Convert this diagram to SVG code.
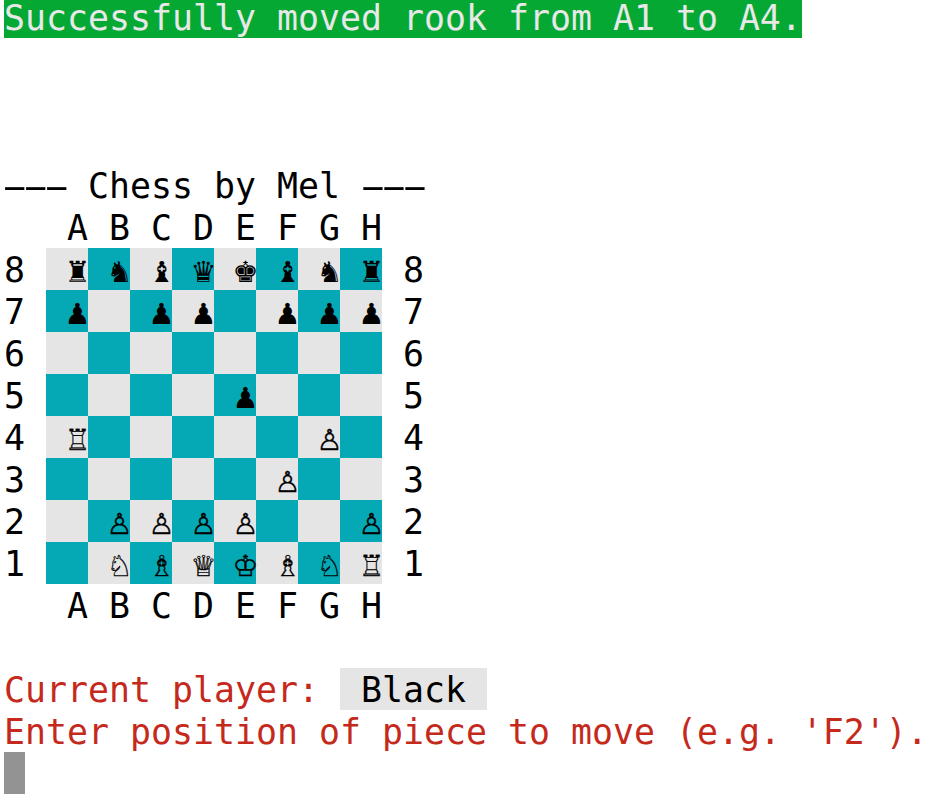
<svg xmlns="http://www.w3.org/2000/svg" width="932" height="799" viewBox="0 0 932 799">
<style>
text{font-family:"DejaVu Sans Mono","Liberation Mono",monospace;font-size:34.88px;white-space:pre}
.k{fill:#000}.r{fill:#c5291c}.w{fill:#e8e8e8}
.l{fill:#e5e5e5}.d{fill:#04a9b5}
.m{text-anchor:middle}
.h{font-family:"DejaVu Sans",sans-serif;letter-spacing:-2.59px}
.p{font-family:"DejaVu Sans",sans-serif;font-size:29px;text-anchor:middle;fill:#000}
.o{stroke:#000;stroke-width:.3px}
</style>
<rect width="932" height="799" fill="#fff"/>
<rect x="4" y="0" width="798" height="38" fill="#05a833"/>
<text class="w" x="4" y="30">Successfully moved rook from A1 to A4.</text>
<g id="title" class="k">
<text class="h" transform="translate(1.4 198) scale(2.1 1)">---</text>
<text x="88" y="198">Chess by Mel</text>
<text class="h" transform="translate(359.7 198) scale(2.1 1)">---</text>
</g>
<g id="files-top" class="k">
<text class="m" x="77.5" y="240">A</text><text class="m" x="119.5" y="240">B</text><text class="m" x="161.5" y="240">C</text><text class="m" x="203.5" y="240">D</text><text class="m" x="245.5" y="240">E</text><text class="m" x="287.5" y="240">F</text><text class="m" x="329.5" y="240">G</text><text class="m" x="371.5" y="240">H</text>
</g>
<g id="files-bottom" class="k">
<text class="m" x="77.5" y="618">A</text><text class="m" x="119.5" y="618">B</text><text class="m" x="161.5" y="618">C</text><text class="m" x="203.5" y="618">D</text><text class="m" x="245.5" y="618">E</text><text class="m" x="287.5" y="618">F</text><text class="m" x="329.5" y="618">G</text><text class="m" x="371.5" y="618">H</text>
</g>
<g id="ranks-left" class="k">
<text x="4" y="282">8</text><text x="4" y="324">7</text><text x="4" y="366">6</text><text x="4" y="408">5</text><text x="4" y="450">4</text><text x="4" y="492">3</text><text x="4" y="534">2</text><text x="4" y="576">1</text>
</g>
<g id="ranks-right" class="k">
<text x="403" y="282">8</text><text x="403" y="324">7</text><text x="403" y="366">6</text><text x="403" y="408">5</text><text x="403" y="450">4</text><text x="403" y="492">3</text><text x="403" y="534">2</text><text x="403" y="576">1</text>
</g>
<g id="board">
<rect class="l" x="46" y="248" width="336" height="336"/>
<path class="d" d="M88 248h42v42h-42zM172 248h42v42h-42zM256 248h42v42h-42zM340 248h42v42h-42zM46 290h42v42h-42zM130 290h42v42h-42zM214 290h42v42h-42zM298 290h42v42h-42zM88 332h42v42h-42zM172 332h42v42h-42zM256 332h42v42h-42zM340 332h42v42h-42zM46 374h42v42h-42zM130 374h42v42h-42zM214 374h42v42h-42zM298 374h42v42h-42zM88 416h42v42h-42zM172 416h42v42h-42zM256 416h42v42h-42zM340 416h42v42h-42zM46 458h42v42h-42zM130 458h42v42h-42zM214 458h42v42h-42zM298 458h42v42h-42zM88 500h42v42h-42zM172 500h42v42h-42zM256 500h42v42h-42zM340 500h42v42h-42zM46 542h42v42h-42zM130 542h42v42h-42zM214 542h42v42h-42zM298 542h42v42h-42z"/>
</g>
<g id="pieces">
<text class="p" x="77.5" y="281.5">♜</text><text class="p" x="119.5" y="281.5">♞</text><text class="p" x="161.5" y="281.5">♝</text><text class="p" x="203.5" y="281.5">♛</text><text class="p" x="245.5" y="281.5">♚</text><text class="p" x="287.5" y="281.5">♝</text><text class="p" x="329.5" y="281.5">♞</text><text class="p" x="371.5" y="281.5">♜</text>
<text class="p" x="77.5" y="323.5">♟</text><text class="p" x="161.5" y="323.5">♟</text><text class="p" x="203.5" y="323.5">♟</text><text class="p" x="287.5" y="323.5">♟</text><text class="p" x="329.5" y="323.5">♟</text><text class="p" x="371.5" y="323.5">♟</text>
<text class="p" x="245.5" y="407.5">♟</text>
<text class="p o" x="77.5" y="449.5">♖</text><text class="p o" x="329.5" y="449.5">♙</text>
<text class="p o" x="287.5" y="491.5">♙</text>
<text class="p o" x="119.5" y="533.5">♙</text><text class="p o" x="161.5" y="533.5">♙</text><text class="p o" x="203.5" y="533.5">♙</text><text class="p o" x="245.5" y="533.5">♙</text><text class="p o" x="371.5" y="533.5">♙</text>
<text class="p o" x="119.5" y="575.5">♘</text><text class="p o" x="161.5" y="575.5">♗</text><text class="p o" x="203.5" y="575.5">♕</text><text class="p o" x="245.5" y="575.5">♔</text><text class="p o" x="287.5" y="575.5">♗</text><text class="p o" x="329.5" y="575.5">♘</text><text class="p o" x="371.5" y="575.5">♖</text>
</g>
<text class="r" x="4" y="702">Current player:</text>
<rect x="340" y="668" width="147" height="42" fill="#e5e5e5"/>
<text class="k" x="361" y="702">Black</text>
<text class="r" x="4" y="744">Enter position of piece to move (e.g. 'F2').</text>
<rect x="4" y="752" width="21" height="42" fill="#939393"/>
</svg>
